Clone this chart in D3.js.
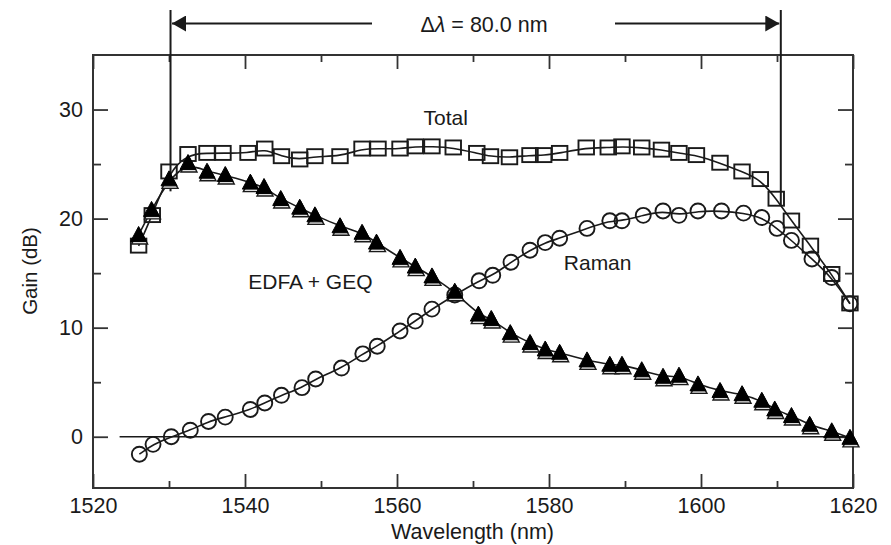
<!DOCTYPE html>
<html>
<head>
<meta charset="utf-8">
<script src="https://cdn.jsdelivr.net/npm/d3@7"></script>
<style>
  html, body { margin: 0; padding: 0; background: #fff; }
  svg { display: block; }
  text { font-family: "Liberation Sans", Arial, Helvetica, sans-serif; fill: #1a1a1a; }
</style>
</head>
<body>
<svg id="chart" width="891" height="545"></svg>
<script>
// ---------------- data ----------------
const totalWl   = [1526.0,1527.8,1530.0,1532.5,1535.0,1537.1,1540.4,1542.6,1544.8,1547.2,1549.2,1552.5,1555.4,1557.5,1560.4,1562.4,1564.6,1567.4,1570.5,1572.3,1574.8,1577.5,1579.3,1581.4,1584.9,1587.8,1589.6,1592.2,1594.8,1597.1,1599.4,1602.5,1605.4,1607.8,1609.9,1611.9,1614.4,1617.2,1619.6];
const totalGain = [17.5,20.3,24.3,25.9,26.0,26.0,26.0,26.4,25.7,25.4,25.7,25.7,26.4,26.4,26.4,26.6,26.6,26.5,26.0,25.7,25.6,25.8,25.8,26.0,26.5,26.5,26.6,26.5,26.3,26.0,25.8,25.1,24.3,23.6,21.8,19.8,17.5,14.9,12.2];

const edfaWl   = [1526.0,1527.7,1530.0,1532.5,1535.0,1537.4,1540.7,1542.5,1544.7,1547.2,1549.2,1552.5,1555.4,1557.3,1560.4,1562.4,1564.6,1567.6,1570.7,1572.4,1574.9,1577.5,1579.5,1581.4,1585.0,1588.0,1589.6,1592.2,1595.0,1597.1,1599.6,1602.5,1605.4,1608.0,1609.7,1611.9,1614.3,1617.2,1619.6];
const edfaGain = [18.5,20.8,23.6,25.1,24.3,24.0,23.3,22.9,21.8,21.0,20.3,19.3,18.7,17.8,16.4,15.6,14.7,13.3,11.2,10.8,9.5,8.6,8.0,7.7,7.0,6.6,6.6,6.1,5.5,5.6,4.8,4.2,3.9,3.3,2.5,1.9,1.1,0.5,-0.1];

const ramanWl   = [1526.1,1527.9,1530.3,1532.8,1535.2,1537.4,1540.7,1542.6,1544.8,1547.5,1549.3,1552.7,1555.5,1557.4,1560.4,1562.4,1564.6,1567.6,1570.8,1572.6,1575.0,1577.5,1579.5,1581.4,1585.0,1588.0,1589.6,1592.4,1595.0,1597.1,1599.6,1602.7,1605.6,1608.0,1610.0,1611.9,1614.6,1617.2,1619.6];
const ramanGain = [-1.6,-0.7,0.0,0.6,1.4,1.8,2.5,3.1,3.8,4.5,5.3,6.3,7.6,8.3,9.7,10.6,11.7,13.0,14.3,14.8,16.0,17.1,17.8,18.2,19.1,19.8,19.8,20.3,20.7,20.3,20.7,20.7,20.5,20.1,19.1,18.0,16.3,14.6,12.2];

const xMajorTicks = [1520,1540,1560,1580,1600,1620];
const xMinorTicks = [1530,1550,1570,1590,1610];
const yMajorTicks = [0,10,20,30];
const yMinorTicks = [5,15,25];

const bandEdgeWl   = [1530.2, 1610.5];
const bandEdgeGain = [22.5, 21.2];
const zeroLineStart = 1523.5;

const seriesLabels = [
  {text: "Total",      wl: 1566.4, gain: 28.6},
  {text: "EDFA + GEQ", wl: 1548.6, gain: 13.57},
  {text: "Raman",      wl: 1586.4, gain: 15.3}
];
const bandLabel = "80.0 nm";

// ---------------- layout ----------------
const svg = d3.select("#chart");
const L = 93, R = 853, T = 55, B = 488;
const x = d3.scaleLinear().domain([1520, 1620]).range([L, R]);
const y = d3.scaleLinear().domain([-4.7, 35]).range([B, T]);
const ink = "#1a1a1a";
const axisInk = "#333";

const toPts = (wl, g) => wl.map((w, i) => [w, g[i]]);
const total = toPts(totalWl, totalGain);
const edfa  = toPts(edfaWl, edfaGain);
const raman = toPts(ramanWl, ramanGain);

// ---------------- axes ----------------
function styleAxis(g) {
  g.select(".domain").remove();
  g.selectAll(".tick line").attr("stroke", axisInk).attr("stroke-width", 1.8);
  g.selectAll(".tick text").style("font-size", "21.5px").attr("fill", ink)
    .style("font-family", '"Liberation Sans", Arial, sans-serif');
}
// bottom
svg.append("g").attr("transform", `translate(0,${B})`)
  .call(d3.axisBottom(x).tickValues(xMajorTicks).tickFormat(d3.format("d")).tickSize(-14).tickPadding(10))
  .call(styleAxis);
svg.append("g").attr("transform", `translate(0,${B})`)
  .call(d3.axisBottom(x).tickValues(xMinorTicks).tickFormat("").tickSize(-7))
  .call(styleAxis);
// top
svg.append("g").attr("transform", `translate(0,${T})`)
  .call(d3.axisTop(x).tickValues(xMajorTicks).tickFormat("").tickSize(-14))
  .call(styleAxis);
svg.append("g").attr("transform", `translate(0,${T})`)
  .call(d3.axisTop(x).tickValues(xMinorTicks).tickFormat("").tickSize(-7))
  .call(styleAxis);
// left
svg.append("g").attr("transform", `translate(${L},0)`)
  .call(d3.axisLeft(y).tickValues(yMajorTicks).tickFormat(d3.format("d")).tickSize(-15).tickPadding(10))
  .call(styleAxis);
svg.append("g").attr("transform", `translate(${L},0)`)
  .call(d3.axisLeft(y).tickValues(yMinorTicks).tickFormat("").tickSize(-8))
  .call(styleAxis);
// right
svg.append("g").attr("transform", `translate(${R},0)`)
  .call(d3.axisRight(y).tickValues(yMajorTicks).tickFormat("").tickSize(-15))
  .call(styleAxis);
svg.append("g").attr("transform", `translate(${R},0)`)
  .call(d3.axisRight(y).tickValues(yMinorTicks).tickFormat("").tickSize(-8))
  .call(styleAxis);

// frame
svg.append("rect").attr("x", L).attr("y", T).attr("width", R - L).attr("height", B - T)
  .attr("fill", "none").attr("stroke", axisInk).attr("stroke-width", 2);

// axis titles
svg.append("text").attr("x", (L + R) / 2 - 0.5).attr("y", 539).attr("text-anchor", "middle")
  .style("font-size", "21.5px").text("Wavelength (nm)");
svg.append("text").attr("transform", `translate(37,${271}) rotate(-90)`).attr("text-anchor", "middle")
  .style("font-size", "20.5px").text("Gain (dB)");

// zero line
svg.append("line").attr("x1", x(zeroLineStart)).attr("x2", R).attr("y1", y(0)).attr("y2", y(0))
  .attr("stroke", ink).attr("stroke-width", 1.6);

// ---------------- band edges & arrows ----------------
const defs = svg.append("defs");
defs.append("marker").attr("id", "ah").attr("viewBox", "0 0 14 16").attr("refX", 14).attr("refY", 8)
  .attr("markerWidth", 14).attr("markerHeight", 16).attr("markerUnits", "userSpaceOnUse").attr("orient", "auto")
  .append("path").attr("d", "M0,0 L14,8 L0,16 Z").attr("fill", ink);

const topY = 10, arrowY = 23.5;
bandEdgeWl.forEach((w, i) => {
  svg.append("line").attr("x1", x(w)).attr("x2", x(w)).attr("y1", topY).attr("y2", y(bandEdgeGain[i]))
    .attr("stroke", ink).attr("stroke-width", 2);
});
svg.append("line").attr("x1", 372).attr("x2", x(bandEdgeWl[0]) + 1.5).attr("y1", arrowY).attr("y2", arrowY)
  .attr("stroke", ink).attr("stroke-width", 1.8).attr("marker-end", "url(#ah)");
svg.append("line").attr("x1", 615).attr("x2", x(bandEdgeWl[1]) - 1.5).attr("y1", arrowY).attr("y2", arrowY)
  .attr("stroke", ink).attr("stroke-width", 1.8).attr("marker-end", "url(#ah)");
const bl = svg.append("text").attr("x", 484).attr("y", 32).attr("text-anchor", "middle").style("font-size", "21.5px");
bl.append("tspan").text("Δ");
bl.append("tspan").style("font-style", "italic").text("λ");
bl.append("tspan").text(" = " + bandLabel);

// ---------------- series lines ----------------
const line = d3.line().x(d => x(d[0])).y(d => y(d[1])).curve(d3.curveBasis);
[total, edfa, raman].forEach(s => {
  svg.append("path").datum(s).attr("d", line).attr("fill", "none").attr("stroke", ink).attr("stroke-width", 1.6);
});

// ---------------- markers ----------------
const sq = 15.5;
svg.append("g").selectAll("rect").data(total).join("rect")
  .attr("x", d => x(d[0]) - sq / 2).attr("y", d => y(d[1]) - sq / 2 + 0.5)
  .attr("width", sq).attr("height", sq - 1.5)
  .attr("fill", "none").attr("stroke", ink).attr("stroke-width", 1.9);

svg.append("g").selectAll("circle").data(raman).join("circle")
  .attr("cx", d => x(d[0])).attr("cy", d => y(d[1])).attr("r", 7.5)
  .attr("fill", "none").attr("stroke", ink).attr("stroke-width", 1.9);

const tri = "M0,-8.5 L8,6.5 L-8,6.5 Z";
const tg = svg.append("g");
tg.selectAll("path.sh").data(edfa).join("path").attr("class", "sh")
  .attr("transform", d => `translate(${x(d[0]) + 1},${y(d[1]) + 2.5})`)
  .attr("d", tri).attr("fill", "#ddd").attr("stroke", ink).attr("stroke-width", 1.4);
tg.selectAll("path.fg").data(edfa).join("path").attr("class", "fg")
  .attr("transform", d => `translate(${x(d[0])},${y(d[1])})`)
  .attr("d", tri).attr("fill", "#000").attr("stroke", "#000").attr("stroke-width", 1);

// ---------------- series labels ----------------
seriesLabels.forEach(l => {
  svg.append("text").attr("x", x(l.wl)).attr("y", y(l.gain)).attr("text-anchor", "middle")
    .style("font-size", "21px").text(l.text);
});
</script>
</body>
</html>
